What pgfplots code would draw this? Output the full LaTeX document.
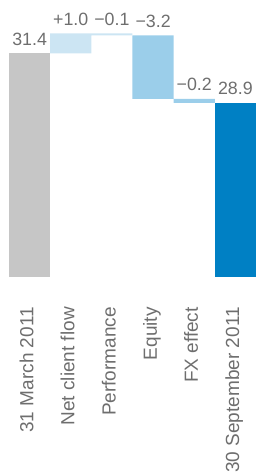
\documentclass[border=0pt]{standalone}
\usepackage{fontspec}
\setmainfont{Liberation Sans}
\usepackage{pgfplots}
\pgfplotsset{compat=1.18}
\definecolor{txt}{HTML}{6E6E6E}
\definecolor{cgray}{HTML}{C6C6C6}
\definecolor{cpale}{HTML}{CCE5F3}
\definecolor{cmed}{HTML}{9BCEEA}
\definecolor{cdark}{HTML}{0080C4}
\begin{document}
\begin{tikzpicture}
\begin{axis}[
  scale only axis, width=247pt, height=277pt,
  xmin=-0.5, xmax=5.5, ymin=20.1, ymax=34.09,
  ybar stacked, bar width=1,
  axis line style={draw=none}, major tick length=0pt,
  ytick=\empty, xtick={0,...,5},
  xticklabels={31 March 2011, Net client flow, Performance, Equity, FX effect, 30 September 2011},
  xticklabel style={rotate=90, anchor=base east, font=\fontsize{19}{21}\selectfont, text=txt, yshift=-3.7pt},
  xticklabel shift=26.7pt,
]
\addplot[draw=none, fill=none] coordinates {(0,0) (1,31.4) (2,32.3) (3,29.1) (4,28.9) (5,0)};
\addplot[draw=none, fill=cgray] coordinates {(0,31.4) (1,0) (2,0) (3,0) (4,0) (5,0)};
\addplot[draw=none, fill=cpale] coordinates {(0,0) (1,1.0) (2,0.1) (3,0) (4,0) (5,0)};
\addplot[draw=none, fill=cmed] coordinates {(0,0) (1,0) (2,0) (3,3.2) (4,0.2) (5,0)};
\addplot[draw=none, fill=cdark] coordinates {(0,0) (1,0) (2,0) (3,0) (4,0) (5,28.9)};
\end{axis}
\begin{axis}[
  scale only axis, width=247pt, height=277pt,
  xmin=-0.5, xmax=5.5, ymin=20.1, ymax=34.09,
  hide axis, clip=false,
  nodes near coords={\fontsize{17.8}{20}\selectfont\pgfplotspointmeta},
  point meta=explicit symbolic,
  nodes near coords style={text=txt, anchor=south, yshift=4.3pt},
]
\addplot[only marks, mark=none] coordinates {(0,31.4)[31.4] (1,32.4)[+1.0] (2,32.4)[−0.1] (3,32.3)[−3.2] (4,29.1)[−0.2] (5,28.9)[28.9]};
\end{axis}
\pgfresetboundingbox
\useasboundingbox ([xshift=-9pt]current axis.north west) rectangle ([yshift=-196pt]current axis.south east);
\end{tikzpicture}
\end{document}
